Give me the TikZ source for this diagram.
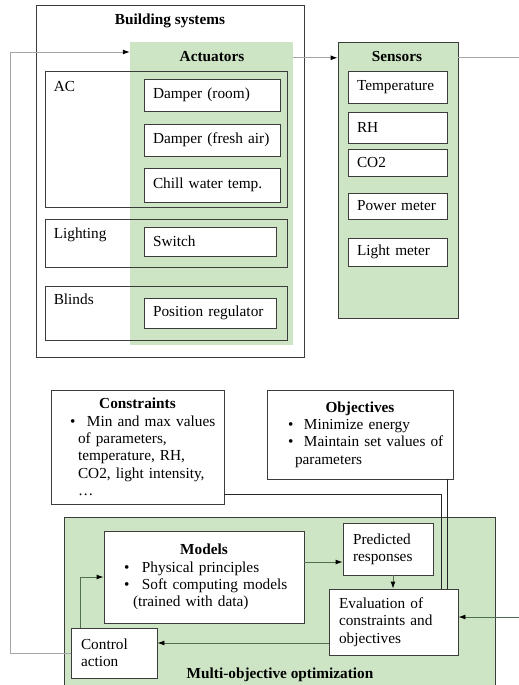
\documentclass[tikz,border=0pt]{standalone}
\usepackage{fontspec}
\setmainfont{Liberation Serif}
\usetikzlibrary{arrows.meta}

\definecolor{boxgreen}{RGB}{205,229,196}
\definecolor{edge}{RGB}{60,60,60}
\definecolor{fbgray}{RGB}{165,165,165}
\definecolor{flowgreen}{RGB}{80,110,80}

\newcommand{\figfont}{\fontsize{15.3}{17.3}\selectfont}

\tikzset{
  box/.style={draw=edge, fill=white, line width=0.9pt, inner xsep=9pt, inner ysep=0pt, align=left,
    execute at begin node=\setlength{\parindent}{0pt}},
  listbox/.style={box, inner xsep=4pt},
  group/.style={draw=edge, line width=0.9pt, inner sep=0pt},
  greenbox/.style={draw=edge, fill=boxgreen, line width=0.9pt, inner sep=0pt},
  grouplbl/.style={anchor=base west, inner sep=0pt},
  title/.style={font=\figfont\bfseries, anchor=base, inner sep=0pt},
  fbline/.style={draw=fbgray, line width=0.9pt, -{Latex[color=black,length=7pt,width=5pt]}},
  flow/.style={draw=flowgreen, line width=0.9pt, -{Latex[color=black,length=7pt,width=5pt]}},
  plain/.style={draw=black!85, line width=0.8pt},
}

\begin{document}
\begin{tikzpicture}[x=1pt, y=-1pt, font=\figfont]

    \useasboundingbox (0,0) rectangle (519,685);

    % Building systems
    \node[group, minimum width=268, minimum height=352] (bldg) at (170,181) {};
    \node[title] (bldgtitle) at (170,25) {Building systems};

    % Actuators
    \node[fill=boxgreen, inner sep=0pt, minimum width=163, minimum height=303] (act) at (211.5,193.5) {};
    \node[title] (acttitle) at (212,62) {Actuators};

    \node[group, minimum width=242, minimum height=136] (ac) at (166,139) {};
    \node[grouplbl] at ([shift={(9,21)}]ac.north west) {AC};
    \node[group, minimum width=242, minimum height=48] (light) at (166,243) {};
    \node[grouplbl] at ([shift={(9,20)}]light.north west) {Lighting};
    \node[group, minimum width=242, minimum height=54] (blinds) at (166,313) {};
    \node[grouplbl] at ([shift={(9,19)}]blinds.north west) {Blinds};

    \node[box, text width=118, minimum height=32] (dproom) at (212,95) {Damper (room)};
    \node[box, text width=118, minimum height=32] (dpfresh) at (212,140) {Damper (fresh air)};
    \node[box, text width=118, minimum height=34] (chill) at (212,185) {Chill water temp.};
    \node[box, text width=114, minimum height=29] (switch) at (210,241.5) {Switch};
    \node[box, text width=114, minimum height=30] (posreg) at (210,313) {Position regulator};

    % Sensors
    \node[greenbox, minimum width=120, minimum height=276] (sens) at (398,180) {};
    \node[title] (senstitle) at (397,62) {Sensors};
    \node[box, text width=81, minimum height=32] (temp) at (397.5,87) {Temperature};
    \node[box, text width=81, minimum height=31] (rh) at (397.5,127.5) {RH};
    \node[box, text width=81, minimum height=27] (co2) at (397.5,162.5) {CO2};
    \node[box, text width=81, minimum height=26] (power) at (397.5,206) {Power meter};
    \node[box, text width=81, minimum height=28] (lightm) at (397.5,252) {Light meter};

    % Constraints and objectives
    \node[listbox, text width=165, minimum height=114] (cons) at (137.5,447)
      {{\centering\bfseries Constraints\par}
       \hspace*{15pt}\textbullet\hspace{11.6pt}Min and max values\\
       \hspace*{23pt}of parameters,\\
       \hspace*{23pt}temperature, RH,\\
       \hspace*{23pt}CO2, light intensity,\\
       \hspace*{23pt}\dots};
    \node[listbox, text width=178, minimum height=89] (obj) at (360,434.5)
      {{\centering\bfseries Objectives\par}
       \hspace*{17pt}\textbullet\hspace{10.6pt}Minimize energy\\
       \hspace*{17pt}\textbullet\hspace{10.6pt}Maintain set values of\\
       \hspace*{24pt}parameters};

    % Multi-objective optimization
    \node[greenbox, minimum width=431, minimum height=175] (multi) at (279.5,604.5) {};
    \node[title] (multititle) at (280,678) {Multi-objective optimization};

    \node[listbox, text width=192, minimum height=92] (models) at (204,577)
      {{\centering\bfseries Models\par}
       \hspace*{16pt}\textbullet\hspace{12.6pt}Physical principles\\
       \hspace*{16pt}\textbullet\hspace{12.6pt}Soft computing models\\
       \hspace*{25pt}(trained with data)};
    \node[box, inner xsep=10pt, text width=70, minimum height=52] (pred) at (388,549) {Predicted\\responses};
    \node[box, inner xsep=10pt, text width=109, minimum height=66] (eval) at (393.5,622) {Evaluation of\\constraints and\\objectives};
    \node[box, inner xsep=10pt, text width=66, minimum height=50] (ctrl) at (114,653) {Control\\action};

    % Links
    \draw[plain] ([yshift=-47pt]cons.east) -| ([xshift=47.5pt]eval.north);
    \draw[plain] ([xshift=-6pt]obj.south east) coordinate (o1) -- (o1 |- eval.north);

    \draw[flow] ([yshift=15pt]models.east) coordinate (m1) -- (m1 -| pred.west);
    \draw[flow] ([xshift=5pt]pred.south) coordinate (p1) -- (p1 |- eval.north);
    \draw[flow] ([yshift=-21pt]eval.west) coordinate (e1) -- (e1 -| ctrl.east);
    \draw[flow] ([xshift=-34pt]ctrl.north) |- (models.west);

    \coordinate (ext) at (519,617);
    \draw[flow] (ext) -- (ext -| eval.east);

    % Feedback loop
    \coordinate (fb) at (10,52);
    \draw[fbline] (ctrl.west) -| (fb) -- (fb -| act.west);
    \draw[fbline] (act.north east) ++(0,16) coordinate (a1) -- (a1 -| sens.west);
    \coordinate (out) at (519,58);
    \draw[fbline, -] (sens.north east) ++(0,16) coordinate (s1) -- (s1 -| out);

\end{tikzpicture}
\end{document}
